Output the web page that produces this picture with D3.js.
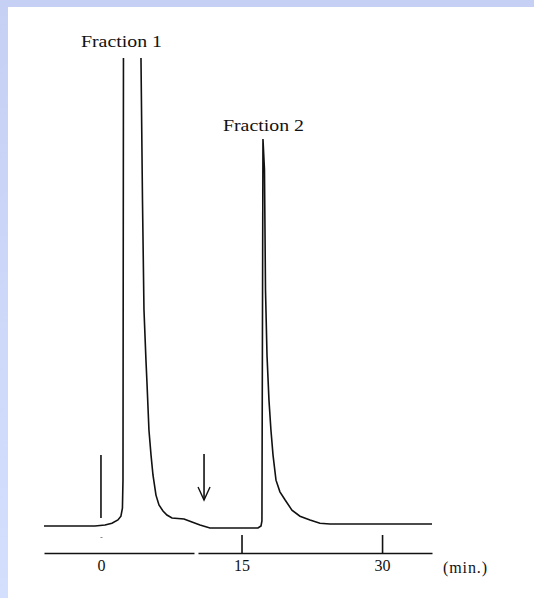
<!DOCTYPE html>
<html><head><meta charset="utf-8">
<script src="https://cdn.jsdelivr.net/npm/d3@7"></script>
<style>html,body{margin:0;padding:0;background:#fff;}svg{display:block;}</style>
</head><body>
<svg id="chart" width="534" height="598"></svg>
<script>
// ---- data (time in min, detector signal in arbitrary units; full scale = 100) ----
const time   = [-6.08,-0.64,0.43,1.17,1.81,2.13,2.29,2.35,2.40,3.30,4.27,4.43,4.59,4.80,4.91,5.12,5.34,5.55,5.87,6.19,6.62,7.04,7.58,8.86,9.71,10.57,11.63,16.76,17.08,17.18,17.29,17.45,17.56,17.72,17.93,18.14,18.36,18.68,19.10,19.64,20.38,21.24,22.31,23.37,24.44,35.33];
const signal = [0,0,0.2,0.6,1.3,2.1,3.8,9.8,100,150,100,69.7,46.2,35.5,30.6,20.5,15.2,10.9,6.6,4.5,3.2,2.35,1.7,1.5,0.85,0.2,-0.43,-0.43,0,1.1,82.7,76.1,50.4,36.5,26.9,20.5,15.2,9.8,7.3,5.6,3.4,2.1,1.3,0.6,0.43,0.43];
const tickValues = [0, 15, 30];
const tickLabels = ["0", "15", "30"];
const unitLabel = "(min.)";
const peakNames = ["Fraction 1", "Fraction 2"];
const peakLabelTimes = [2.19, 17.34];
const injectionTime = 0;
const arrowTime = 11.0;

const svg = d3.select("#chart");
// frame (lavender border on top and left)
const defs = svg.append("defs");
const g1 = defs.append("linearGradient").attr("id","lg").attr("x1",0).attr("y1",0).attr("x2",0).attr("y2",1);
g1.append("stop").attr("offset","0%").attr("stop-color","#c6d0f4");
g1.append("stop").attr("offset","100%").attr("stop-color","#d4defd");
svg.append("rect").attr("x",0).attr("y",0).attr("width",534).attr("height",7).attr("fill","#c6d0f4");
svg.append("rect").attr("x",0).attr("y",0).attr("width",8).attr("height",598).attr("fill","url(#lg)");

const x = d3.scaleLinear().domain([-6.08, 35.33]).range([44, 432]);
const y = d3.scaleLinear().domain([0, 100]).range([526, 58]);

defs.append("clipPath").attr("id","clip").append("rect")
  .attr("x",0).attr("y",y(100)).attr("width",534).attr("height",598);

const ink = "#111";
const data = time.map((t,i)=>({t, v: signal[i]}));
svg.append("path").datum(data)
  .attr("clip-path","url(#clip)")
  .attr("fill","none").attr("stroke",ink).attr("stroke-width",1.6)
  .attr("d", d3.line().x(d=>x(d.t)).y(d=>y(d.v)));

// injection marker
svg.append("line").attr("x1",x(injectionTime)).attr("x2",x(injectionTime))
  .attr("y1",455).attr("y2",518).attr("stroke",ink).attr("stroke-width",1.6);

// arrow
const ax = x(arrowTime);
svg.append("line").attr("x1",ax).attr("x2",ax).attr("y1",454).attr("y2",500).attr("stroke",ink).attr("stroke-width",1.6);
svg.append("path").attr("d",`M${ax-6},487 L${ax},500 L${ax+6},487`).attr("fill","none").attr("stroke",ink).attr("stroke-width",1.4);

// time axis
const axisY = 553;
const axis = d3.axisBottom(x).tickValues(tickValues).tickFormat((d,i)=>tickLabels[i])
  .tickSizeInner(-18).tickSizeOuter(0).tickPadding(10);
const ag = svg.append("g").attr("transform",`translate(0,${axisY})`).call(axis);
ag.select(".domain").attr("stroke",ink).attr("stroke-width",1.6).attr("stroke-dasharray","150,4,1000");
ag.selectAll(".tick line").attr("stroke",ink).attr("stroke-width",1.6)
  .filter(d=>d===injectionTime).attr("y2",-15).attr("y1",-15.5).attr("stroke-width",2);
ag.selectAll(".tick text").attr("fill",ink).attr("font-family","Liberation Serif, serif").attr("font-size",16).attr("dy","0.5em");
svg.append("text").attr("x",443).attr("y",573).attr("fill",ink)
  .attr("font-family","Liberation Serif, serif").attr("font-size",16).attr("textLength",44).text(unitLabel);

// peak labels
peakNames.forEach((name,i)=>{
  svg.append("text").attr("x",x(peakLabelTimes[i])).attr("y",i===0?47:131)
    .attr("text-anchor","middle").attr("fill",ink)
    .attr("font-family","Liberation Serif, serif").attr("font-size",16)
    .attr("textLength",81).attr("lengthAdjust","spacingAndGlyphs").text(name);
});
</script>
</body></html>
